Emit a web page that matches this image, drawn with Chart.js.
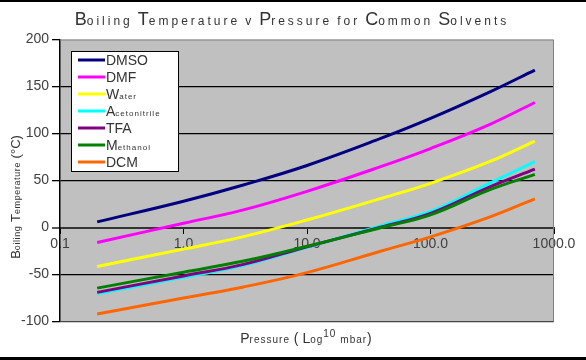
<!DOCTYPE html>
<html><head><meta charset="utf-8">
<script src="https://cdn.jsdelivr.net/npm/chart.js@4"></script>
<style>html,body{margin:0;padding:0;background:#fff}#wrap{width:586px;height:360px;position:relative}</style>
</head><body><div id="wrap"><canvas id="c" width="586" height="360"></canvas></div>
<script>
// ---- data ----
const pressures = [0.2, 1, 3, 10, 40, 100, 300, 700];           // mbar
const seriesNames = ['DMSO', 'DMF', 'Water', 'Acetonitrile', 'TFA', 'Methanol', 'DCM'];
const dmso         = [6, 28, 45, 66, 95, 116, 144, 167.5];
const dmf          = [-16, 4.5, 18.5, 38.5, 65, 84, 109.5, 133];
const water        = [-41.5, -23, -10, 8, 31, 47, 70, 92];
const acetonitrile = [-70.5, -53, -40.5, -21, 2, 17, 47, 70];
const tfa          = [-69, -51.5, -39.5, -20.5, 0.5, 15, 43, 62];
const methanol     = [-64.5, -47.5, -36, -20, 0, 13.5, 40, 56.5];
const dcm          = [-92, -75, -63.5, -48, -25, -10, 11, 30.5];
const seriesColors = ['#000080', '#FF00FF', '#FFFF00', '#00FFFF', '#800080', '#008000', '#FF6600'];
const xTickValues = [0.1, 1, 10, 100, 1000];
const yMin = -100, yMax = 200, yStep = 50;
const titleText = 'Boiling Temperature v Pressure for Common Solvents';
const yTitleText = 'Boiling Temperature (°C)';

const seriesValues = [dmso, dmf, water, acetonitrile, tfa, methanol, dcm];
const FONT = "'Liberation Sans', Arial, sans-serif";

function runs(text, big, small) {
  const out = [];
  for (const ch of text) {
    const isLower = ch >= 'a' && ch <= 'z';
    const size = isLower ? small : big;
    const last = out[out.length - 1];
    if (last && last.size === size) last.t += ch; else out.push({t: ch, size});
  }
  return out;
}
function measureRuns(ctx, rs) {
  let w = 0;
  for (const r of rs) {
    ctx.font = r.size + 'px ' + FONT;
    ctx.letterSpacing = (r.ls || 0) + 'px';
    w += ctx.measureText(r.t).width;
  }
  return w;
}
function drawRuns(ctx, rs, x, y, align) {
  const w = measureRuns(ctx, rs);
  let cx = align === 'center' ? x - w / 2 : x;
  ctx.textAlign = 'left';
  ctx.textBaseline = 'alphabetic';
  for (const r of rs) {
    ctx.font = r.size + 'px ' + FONT;
    ctx.letterSpacing = (r.ls || 0) + 'px';
    ctx.fillText(r.t, cx, y + (r.dy || 0));
    cx += ctx.measureText(r.t).width;
  }
  ctx.letterSpacing = '0px';
}
function spaced(rs, ls, limit) { return rs.map(r => (r.size < (limit || 12) ? Object.assign({ls}, r) : r)); }

const decor = {
  id: 'decor',
  beforeDraw(chart) {
    const {ctx, chartArea: a} = chart;
    ctx.save();
    ctx.fillStyle = '#fff';
    ctx.fillRect(0, 0, chart.width, chart.height);
    ctx.fillStyle = '#C0C0C0';
    ctx.fillRect(a.left, a.top, a.right - a.left, a.bottom - a.top);
    ctx.restore();
  },
  afterDraw(chart) {
    const {ctx, chartArea: a} = chart;
    ctx.save();
    ctx.strokeStyle = '#808080';
    ctx.lineWidth = 1;
    ctx.beginPath();
    ctx.moveTo(a.left, a.top + 0.5); ctx.lineTo(a.right - 0.5, a.top + 0.5); ctx.lineTo(a.right - 0.5, a.bottom);
    ctx.stroke();
    ctx.fillStyle = '#000';
    ctx.fillRect(0, 0, chart.width, 2);
    ctx.fillRect(0, chart.height - 3, chart.width, 3);

    ctx.fillStyle = '#333';
    drawRuns(ctx, spaced(runs(titleText, 18, 12), 3, 13), 292, 25, 'center');
    const xr = spaced([
      {t: 'P', size: 14}, {t: 'ressure', size: 10}, {t: ' ( ', size: 14}, {t: 'L', size: 14},
      {t: 'og', size: 10}, {t: '10', size: 10, dy: -6}, {t: ' ', size: 14}, {t: 'mbar', size: 10}, {t: ')', size: 14}
    ], 1);
    drawRuns(ctx, xr, 306, 343, 'center');
    ctx.save();
    ctx.translate(20, 197);
    ctx.rotate(-Math.PI / 2);
    drawRuns(ctx, spaced(runs(yTitleText, 13, 9), 0.6), 0, 0, 'center');
    ctx.restore();

    const lx = 71, ly = 51, lw = 107, lh = 120;
    ctx.fillStyle = '#fff';
    ctx.fillRect(lx, ly, lw, lh);
    ctx.strokeStyle = '#000';
    ctx.lineWidth = 1;
    ctx.strokeRect(lx + 0.5, ly + 0.5, lw, lh);
    chart.data.datasets.forEach((ds, i) => {
      const yy = ly + 9 + i * 17;
      ctx.strokeStyle = ds.borderColor;
      ctx.lineWidth = 3;
      ctx.beginPath(); ctx.moveTo(78, yy); ctx.lineTo(105, yy); ctx.stroke();
      ctx.fillStyle = '#333';
      drawRuns(ctx, spaced(runs(ds.label, 14, 8), 1), 106, yy + 5, 'left');
    });
    ctx.restore();
  }
};

const datasets = seriesNames.map((name, i) => ({
  label: name,
  data: pressures.map((p, j) => ({x: p, y: seriesValues[i][j]})),
  borderColor: seriesColors[i],
  backgroundColor: seriesColors[i],
  borderWidth: 3,
  pointRadius: 0,
  tension: 0.4,
  fill: false,
  order: -i
}));

new Chart(document.getElementById('c'), {
  type: 'line',
  data: {datasets},
  plugins: [decor],
  options: {
    responsive: false,
    animation: false,
    devicePixelRatio: 1,
    layout: {padding: {top: 39.5, right: 32, bottom: 38.5, left: 0}},
    plugins: {legend: {display: false}, title: {display: false}, tooltip: {enabled: false}},
    scales: {
      x: {
        type: 'logarithmic',
        min: xTickValues[0], max: xTickValues[xTickValues.length - 1],
        position: {y: 0},
        afterBuildTicks: s => { s.ticks = xTickValues.map(v => ({value: v})); },
        afterFit: s => { s.paddingLeft = 0; s.paddingRight = 0; },
        ticks: {
          callback: v => Number(v).toFixed(1),
          font: {family: FONT, size: 14}, color: '#404040', padding: 3,
          maxRotation: 0, autoSkip: false
        },
        grid: {drawOnChartArea: false, tickLength: 5, color: '#000', tickColor: '#000'},
        border: {display: true, color: '#333', width: 2}
      },
      y: {
        min: yMin, max: yMax,
        afterFit: s => { s.width = 60; s.paddingTop = 0; s.paddingBottom = 0; },
        ticks: {stepSize: yStep, font: {family: FONT, size: 14}, color: '#404040', padding: 3},
        grid: {
          color: c => c.tick.value === yMax ? 'rgba(0,0,0,0)' : (c.tick.value === 0 ? '#333' : (c.tick.value === yMin ? '#444' : '#000')),
          lineWidth: c => (c.tick.value === 0 ? 2 : 1.3),
          tickLength: 8, tickColor: '#000', tickWidth: 1.3
        },
        border: {display: true, color: '#000', width: 1.5}
      }
    }
  }
});
</script></body></html>
